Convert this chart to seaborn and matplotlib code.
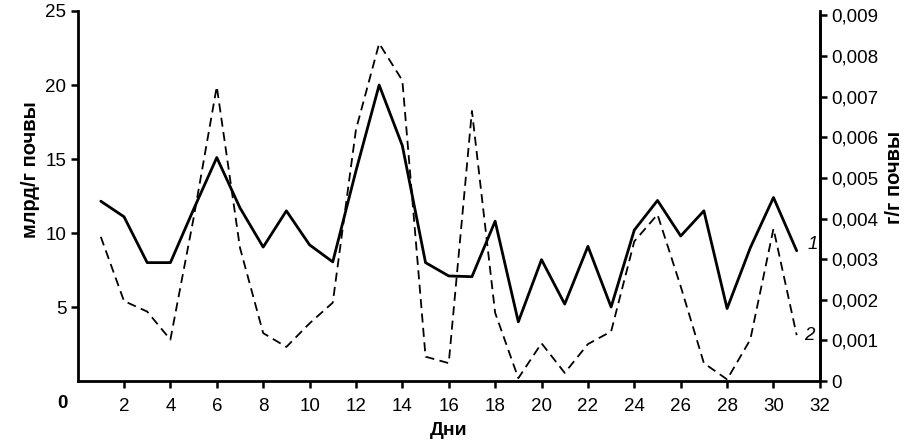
import numpy as np
import pandas as pd
import matplotlib
matplotlib.use("Agg")
import matplotlib.pyplot as plt
import seaborn as sns

# days of observation
days = list(range(1, 32))

# curve 1: bacteria count, billion per g soil (left axis)
bacteria = [12.15, 11.1, 8.0, 8.0, 11.6, 15.1, 11.7, 9.05, 11.5, 9.2,
            8.05, 14.2, 20.0, 15.9, 8.0, 7.1, 7.05, 10.8, 4.0, 8.2,
            5.2, 9.1, 5.0, 10.2, 12.2, 9.8, 11.5, 4.9, 9.0, 12.4, 8.8]

# curve 2: g per g soil (right axis)
mass = [0.00355, 0.00197, 0.00171, 0.00102, 0.00401, 0.00725, 0.00328,
        0.00118, 0.00084, 0.00142, 0.00193, 0.00619, 0.00831, 0.00740,
        0.00060, 0.00044, 0.00665, 0.00168, 0.00007, 0.00093, 0.00020,
        0.00091, 0.00122, 0.00344, 0.00410, 0.00233, 0.00044, 0.00004,
        0.00102, 0.00375, 0.00113]

x_ticks = list(range(2, 33, 2))
left_ticks = [5, 10, 15, 20, 25]
right_ticks = [0, 0.001, 0.002, 0.003, 0.004, 0.005, 0.006, 0.007, 0.008, 0.009]
right_labels = ["0", "0,001", "0,002", "0,003", "0,004", "0,005",
                "0,006", "0,007", "0,008", "0,009"]

df = pd.DataFrame({"day": days, "bacteria": bacteria, "mass": mass})

sns.set_style("ticks")
plt.rcParams["font.family"] = ["Liberation Sans", "DejaVu Sans"]
plt.rcParams["text.color"] = "black"
plt.rcParams["axes.labelcolor"] = "black"

fig = plt.figure(figsize=(9.13, 4.4), dpi=100)
ax = fig.add_axes([0.085, 0.134, 0.813, 0.841])
ax2 = ax.twinx()

sns.lineplot(data=df, x="day", y="bacteria", ax=ax, color="black",
             linewidth=2.0)
sns.lineplot(data=df, x="day", y="mass", ax=ax2, color="black",
             linewidth=1.3, linestyle=(0, (5, 3)))

ax.set_xlim(0, 32)
ax.set_ylim(0, 25)
ax2.set_ylim(0, 0.00911)

ax.set_xticks(x_ticks)
ax.set_yticks(left_ticks)
ax2.set_yticks(right_ticks)
ax2.set_yticklabels(right_labels)

fs = 13.5
ax.tick_params(axis="y", direction="out", length=5, width=1.8,
               labelsize=fs, colors="black", pad=3)
ax.tick_params(axis="x", direction="out", length=5, width=1.8,
               labelsize=fs, colors="black", pad=7)
ax2.tick_params(axis="y", direction="out", length=5, width=1.8,
                labelsize=fs, colors="black", pad=3)

ax.set_xlabel("Дни", fontsize=14, fontweight="bold", labelpad=5,
              color="black")
ax.set_ylabel("млрд/г почвы", fontsize=14.5, fontweight="bold",
              color="black")
ax2.set_ylabel("г/г почвы", fontsize=14.5, fontweight="bold", color="black")
ax.yaxis.set_label_coords(-0.050, 0.57)
ax2.yaxis.set_label_coords(1.088, 0.55)

for a in (ax, ax2):
    a.spines["top"].set_visible(False)
    for s in a.spines.values():
        s.set_linewidth(2.0)
        s.set_color("black")
ax2.spines["left"].set_visible(False)
ax2.spines["bottom"].set_visible(False)
ax2.spines["right"].set_bounds(0, 0.009)

# origin label and curve numbers
ax.text(-0.67, -0.062, "0", transform=ax.get_xaxis_transform(),
        fontsize=fs, fontweight="bold", ha="center", va="center")
ax.text(31.7, 9.2, "1", fontsize=fs, style="italic", ha="center", va="center")
ax.text(31.55, 3.1, "2", fontsize=fs, style="italic", ha="center", va="center")

fig.savefig("out.png", dpi=100)
